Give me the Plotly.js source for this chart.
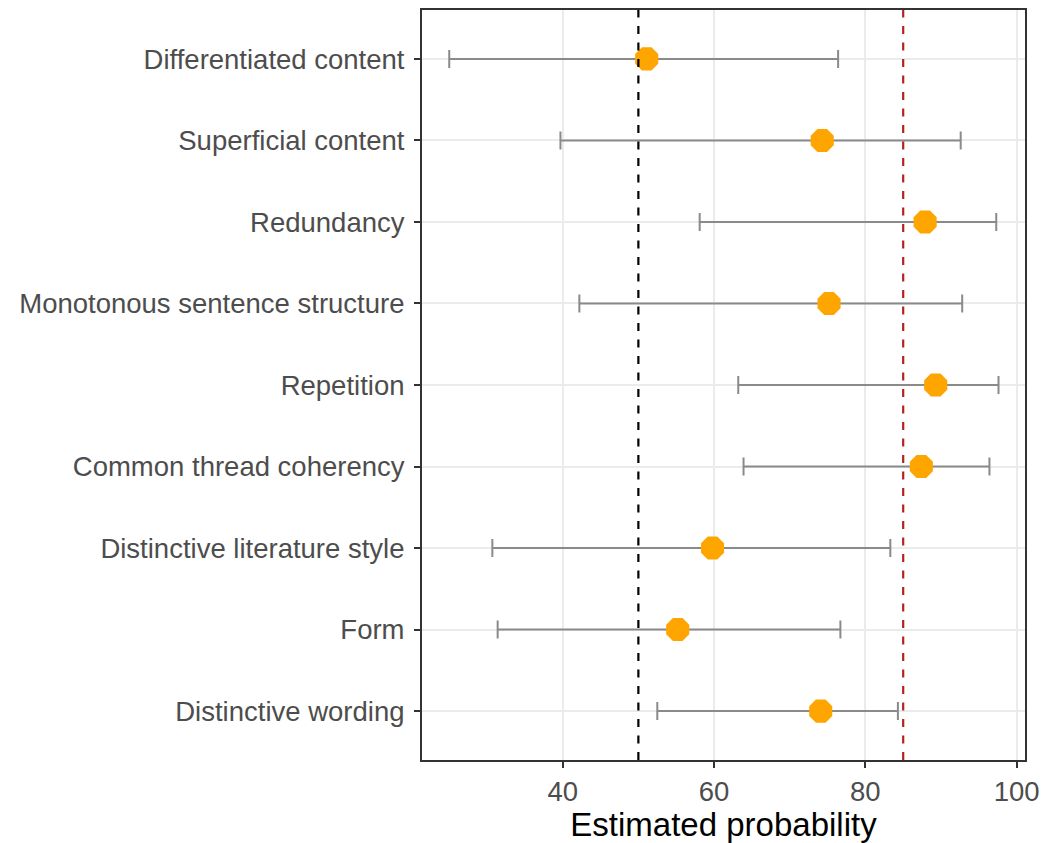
<!DOCTYPE html>
<html>
<head>
<meta charset="utf-8">
<script src="https://cdn.plot.ly/plotly-3.0.1.min.js"></script>
<style>html,body{margin:0;padding:0;background:#fff;}#chart{width:1043px;height:843px;}</style>
</head>
<body>
<div id="chart"></div>
<script>
const categories = [
  "Differentiated content",
  "Superficial content",
  "Redundancy",
  "Monotonous sentence structure",
  "Repetition",
  "Common thread coherency",
  "Distinctive literature style",
  "Form",
  "Distinctive wording"
];
const estimate = [51.1, 74.3, 87.9, 75.2, 89.3, 87.4, 59.8, 55.2, 74.1];
const lower    = [25.0, 39.7, 58.1, 42.2, 63.2, 63.9, 30.7, 31.4, 52.5];
const upper    = [76.4, 92.6, 97.3, 92.8, 97.6, 96.4, 83.3, 76.7, 84.3];
const refChance = 50;
const refHuman = 85;
const xTicks = [40, 60, 80, 100];

const trace = {
  type: "scatter",
  mode: "markers",
  x: estimate,
  y: categories,
  marker: {symbol: "octagon", size: 25, color: "#FFA500", line: {width: 0}},
  error_x: {
    type: "data",
    symmetric: false,
    array: estimate.map((v, i) => upper[i] - v),
    arrayminus: estimate.map((v, i) => v - lower[i]),
    color: "#8a8a8a",
    thickness: 2,
    width: 9
  },
  hoverinfo: "x+y",
  showlegend: false
};

const layout = {
  width: 1043,
  height: 843,
  margin: {l: 422, r: 18, t: 10, b: 83, pad: 0},
  paper_bgcolor: "#ffffff",
  plot_bgcolor: "#ffffff",
  font: {family: "Liberation Sans, Arial, sans-serif", color: "#4D4D4D"},
  xaxis: {
    range: [21.4, 101.1],
    tickvals: xTicks,
    ticktext: xTicks.map(String),
    tickfont: {size: 27.5, color: "#4D4D4D"},
    ticks: "outside",
    ticklen: 6,
    tickwidth: 2,
    tickcolor: "#333333",
    showgrid: true,
    gridcolor: "#EBEBEB",
    gridwidth: 2,
    zeroline: false,
    showline: true,
    mirror: true,
    linecolor: "#333333",
    linewidth: 2,
    title: {text: "Estimated probability", font: {size: 33, color: "#000000"}, standoff: 6}
  },
  yaxis: {
    type: "category",
    categoryorder: "array",
    categoryarray: categories,
    range: [8.6, -0.6],
    tickfont: {size: 27.5, color: "#4D4D4D"},
    ticks: "outside",
    ticklen: 6,
    tickwidth: 2,
    tickcolor: "#333333",
    ticklabelstandoff: 4,
    showgrid: true,
    gridcolor: "#EBEBEB",
    gridwidth: 2,
    zeroline: false,
    showline: true,
    mirror: true,
    linecolor: "#333333",
    linewidth: 2
  },
  shapes: [
    {type: "line", xref: "x", yref: "paper", x0: refChance, x1: refChance, y0: 0, y1: 1,
     line: {color: "#000000", width: 2.2, dash: "8px,8.5px"}, layer: "above"},
    {type: "line", xref: "x", yref: "paper", x0: refHuman, x1: refHuman, y0: 0, y1: 1,
     line: {color: "#B22222", width: 2.2, dash: "8px,8.5px"}, layer: "above"}
  ],
  showlegend: false
};

Plotly.newPlot("chart", [trace], layout, {displayModeBar: false, staticPlot: true});
</script>
</body>
</html>
